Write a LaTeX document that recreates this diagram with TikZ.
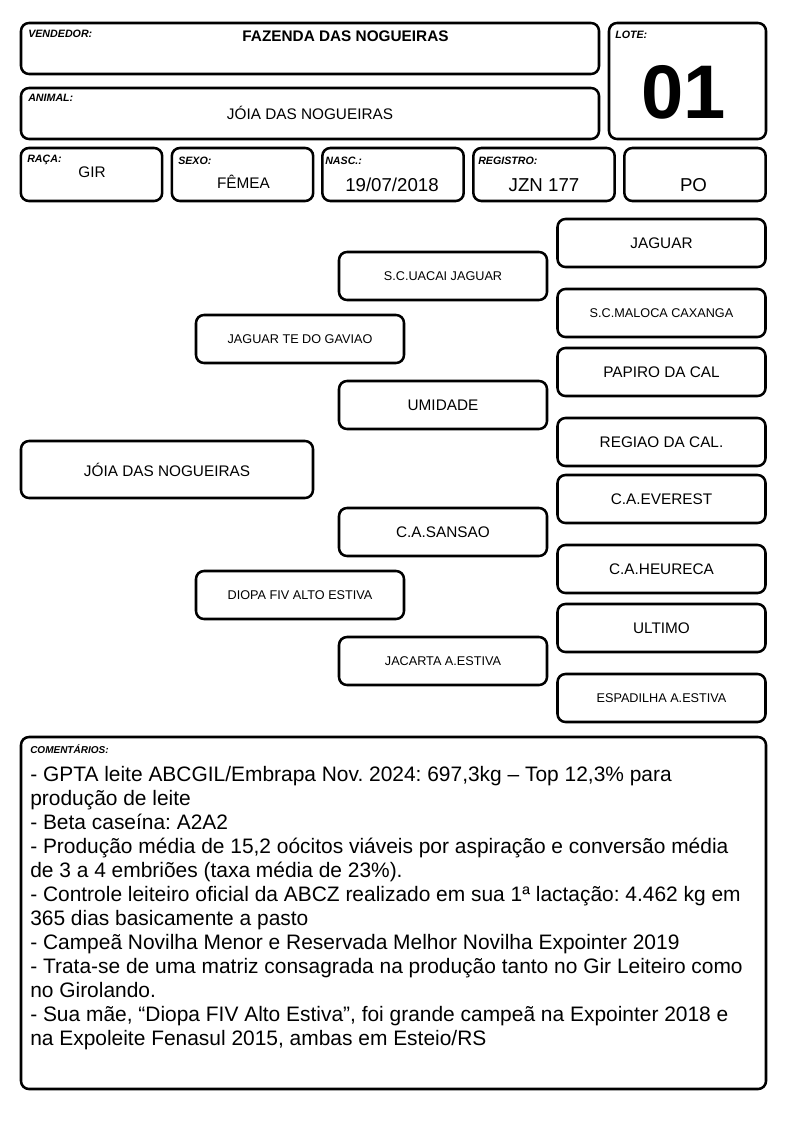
\documentclass[tikz,border=0pt]{standalone}
\usepackage{fontspec}
\setmainfont{Liberation Sans}
\frenchspacing
\begin{document}
\begin{tikzpicture}[x=0.75pt,y=-0.75pt,
  box/.style={draw=black, line width=1.9pt, rounded corners=6pt, inner sep=0pt},
  lbl/.style={font=\fontsize{8}{9}\selectfont\bfseries\itshape, anchor=base west, inner sep=0pt},
  val/.style={font=\fontsize{11.5}{13}\selectfont, anchor=base, inner sep=0pt},
  bigval/.style={font=\fontsize{14}{16}\selectfont, anchor=base, inner sep=0pt},
  ped/.style={box, minimum width=156pt, minimum height=36pt, font=\fontsize{11.5}{13}\selectfont},
  pedsm/.style={ped, font=\fontsize{9.5}{11}\selectfont},
  smallbox/.style={box, minimum width=106pt, minimum height=39.75pt}]
\useasboundingbox (0,0) rectangle (794,1123);
% header
\node[box, minimum width=433.5pt, minimum height=38.25pt] (vend) at (310,48.5) {};
\node[box, minimum width=117.75pt, minimum height=87pt] (lote) at (687.5,81) {};
\node[box, minimum width=433.5pt, minimum height=38.25pt] (animal) at (310,113.5) {};
\node[smallbox] (raca) at (91.5,174.5) {};
\node[smallbox] (sexo) at (242.5,174.5) {};
\node[smallbox] (nasc) at (393,174.5) {};
\node[smallbox] (reg) at (544,174.5) {};
\node[smallbox] (po) at (695,174.5) {};
\node[lbl] (vendL) at (28,38) {VENDEDOR:};
\node[lbl] (loteL) at (615,39) {LOTE:};
\node[lbl] (animalL) at (28,102) {ANIMAL:};
\node[lbl] (racaL) at (27,163) {RAÇA:};
\node[lbl] (sexoL) at (178,165) {SEXO:};
\node[lbl] (nascL) at (325,165) {NASC.:};
\node[lbl] (regL) at (478,165) {REGISTRO:};
\node[val, font=\fontsize{11.5}{13}\selectfont\bfseries] (vendV) at (345.5,42) {FAZENDA DAS NOGUEIRAS};
\node[anchor=base, inner sep=0pt, font=\fontsize{57}{60}\selectfont\bfseries] (loteV) at (684,119) {01};
\node[val] (animalV) at (310,120) {JÓIA DAS NOGUEIRAS};
\node[val] (racaV) at (92,178) {GIR};
\node[val] (sexoV) at (243.5,189) {FÊMEA};
\node[bigval] (nascV) at (392,192) {19/07/2018};
\node[bigval] (regV) at (544,192) {JZN 177};
\node[bigval] (poV) at (693.5,192) {PO};
% pedigree
\node[box, minimum width=219pt, minimum height=42.75pt, font=\fontsize{11.5}{13}\selectfont] (p0) at (167,469.5) {JÓIA DAS NOGUEIRAS};
\node[pedsm] (p1) at (300,339) {JAGUAR TE DO GAVIAO};
\node[pedsm] (p2) at (300,595) {DIOPA FIV ALTO ESTIVA};
\node[pedsm] (g1) at (443,276) {S.C.UACAI JAGUAR};
\node[ped] (g2) at (443,405) {UMIDADE};
\node[ped] (g3) at (443,532) {C.A.SANSAO};
\node[pedsm] (g4) at (443,661) {JACARTA A.ESTIVA};
\node[ped] (gg1) at (661.5,243) {JAGUAR};
\node[pedsm] (gg2) at (661.5,313) {S.C.MALOCA CAXANGA};
\node[ped] (gg3) at (661.5,372) {PAPIRO DA CAL};
\node[ped] (gg4) at (661.5,442) {REGIAO DA CAL.};
\node[ped] (gg5) at (661.5,499) {C.A.EVEREST};
\node[ped] (gg6) at (661.5,569) {C.A.HEURECA};
\node[ped] (gg7) at (661.5,628) {ULTIMO};
\node[pedsm] (gg8) at (661.5,698) {ESPADILHA A.ESTIVA};
% comments
\node[box, minimum width=558.75pt, minimum height=264pt] (com) at (393.5,913) {};
\node[lbl, font=\fontsize{7.5}{9}\selectfont\bfseries\itshape] (comL) at (30,753) {COMENTÁRIOS:};
\node[anchor=north west, inner sep=0pt, align=left, font=\fontsize{15.7}{18}\selectfont] (comT) at (30,766) {%
- GPTA leite ABCGIL/Embrapa Nov. 2024: 697,3kg – Top 12,3\% para\\
produção de leite\\
- Beta caseína: A2A2\\
- Produção média de 15,2 oócitos viáveis por aspiração e conversão média\\
de 3 a 4 embriões (taxa média de 23\%).\\
- Controle leiteiro oficial da ABCZ realizado em sua 1ª lactação: 4.462 kg em\\
365 dias basicamente a pasto\\
- Campeã Novilha Menor e Reservada Melhor Novilha Expointer 2019\\
- Trata-se de uma matriz consagrada na produção tanto no Gir Leiteiro como\\
no Girolando.\\
- Sua mãe, “Diopa FIV Alto Estiva”, foi grande campeã na Expointer 2018 e\\
na Expoleite Fenasul 2015, ambas em Esteio/RS};
\end{tikzpicture}
\end{document}
